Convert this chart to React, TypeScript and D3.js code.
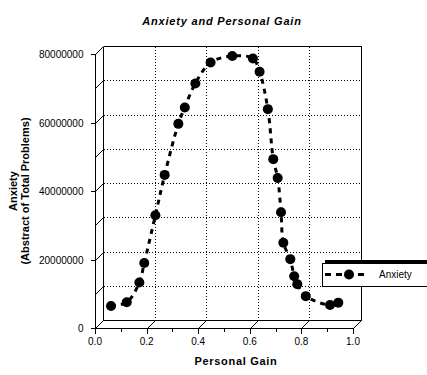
import * as d3 from 'd3'

// personal gain (x) and anxiety (y)
const gain = [0.062, 0.123, 0.172, 0.191, 0.234, 0.27, 0.323, 0.348, 0.389, 0.448, 0.532, 0.612,
  0.638, 0.67, 0.691, 0.708, 0.721, 0.73, 0.757, 0.772, 0.784, 0.817, 0.911, 0.943]
const anxiety = [6400000, 7500000, 13300000, 19000000, 32900000, 44700000, 59600000, 64400000,
  71400000, 77500000, 79400000, 78700000, 74800000, 63900000, 49300000, 43800000, 33800000,
  24900000, 20100000, 15100000, 12800000, 9300000, 6700000, 7400000]

const yTicks = [0, 20000000, 40000000, 60000000, 80000000]
const yMinor = [10000000, 30000000, 50000000, 70000000]
const xTicks = [0, 0.2, 0.4, 0.6, 0.8, 1.0]
const xMinor = [0.1, 0.3, 0.5, 0.7, 0.9]

const font = '"Liberation Sans", Arial, sans-serif'

export default function App() {
  const width = 427
  const height = 375
  const depth = 8

  const x = d3.scaleLinear().domain([0, 1]).range([95, 353])
  const y = d3.scaleLinear().domain([0, 80000000]).range([328, 54])
  const px = (v: number) => Math.round(v) + 0.5

  const left = px(x(0))
  const right = px(x(1))
  const bottom = px(y(0))
  const top = px(y(80000000))

  const pts = gain.map((g, i) => [x(g), y(anxiety[i])] as [number, number])
  const line = d3.line().curve(d3.curveCatmullRom)(pts)

  return (
    <svg width={width} height={height} style={{ position: 'absolute', left: 0, top: 0, background: '#fff' }}>
      {/* title */}
      <text x={222} y={25} textAnchor='middle' fontFamily={font} fontSize={11} fontWeight='bold' fontStyle='italic' letterSpacing={0.8}>
        Anxiety and Personal Gain
      </text>

      {/* back plane */}
      <g stroke='#000' strokeWidth={1} fill='none' shapeRendering='crispEdges'>
        <line x1={left + depth} x2={right + depth} y1={top - depth} y2={top - depth} />
        <line x1={right + depth} x2={right + depth} y1={top - depth} y2={bottom - depth} />
        <line x1={left + depth} x2={left + depth} y1={top - depth} y2={bottom - depth} />
        <line x1={left + depth} x2={right + depth} y1={bottom - depth} y2={bottom - depth} />
      </g>

      {/* dotted grid on back plane */}
      <g stroke='#000' strokeWidth={1} strokeDasharray='1,2' shapeRendering='crispEdges'>
        {[...yTicks, ...yMinor].filter(t => t > 0 && t < 80000000).map(t => (
          <line key={'gy' + t} x1={left + depth} x2={right + depth} y1={px(y(t)) - depth} y2={px(y(t)) - depth} />
        ))}
        {xTicks.filter(t => t > 0 && t < 1).map(t => (
          <line key={'gx' + t} x1={px(x(t)) + depth} x2={px(x(t)) + depth} y1={top - depth} y2={bottom - depth} />
        ))}
      </g>

      {/* axes */}
      <g stroke='#000' strokeWidth={1} fill='none'>
        <line x1={left} x2={left} y1={top} y2={bottom} shapeRendering='crispEdges' />
        <line x1={left} x2={right} y1={bottom} y2={bottom} shapeRendering='crispEdges' />
        {[...yTicks, ...yMinor].map(t => (
          <line key={'dy' + t} x1={left} y1={px(y(t))} x2={left + depth} y2={px(y(t)) - depth} />
        ))}
        {xTicks.map(t => (
          <line key={'dx' + t} x1={px(x(t))} y1={bottom} x2={px(x(t)) + depth} y2={bottom - depth} />
        ))}
        {yTicks.map(t => (
          <line key={'ty' + t} x1={left - 5} x2={left} y1={px(y(t))} y2={px(y(t))} shapeRendering='crispEdges' />
        ))}
        {xTicks.map(t => (
          <line key={'tx' + t} x1={px(x(t))} x2={px(x(t))} y1={bottom} y2={bottom + 5} shapeRendering='crispEdges' />
        ))}
        {xMinor.map(t => (
          <line key={'mx' + t} x1={px(x(t))} x2={px(x(t))} y1={bottom} y2={bottom + 3} shapeRendering='crispEdges' />
        ))}
      </g>

      {/* tick labels */}
      <g fontFamily={font} fontSize={10} fill='#000'>
        {yTicks.map(t => (
          <text key={'ly' + t} x={left - 12} y={y(t) + 4} textAnchor='end'>{t}</text>
        ))}
        {xTicks.map(t => (
          <text key={'lx' + t} x={x(t)} y={345} textAnchor='middle'>{d3.format('.1f')(t)}</text>
        ))}
      </g>

      {/* axis titles */}
      <text x={236} y={365} textAnchor='middle' fontFamily={font} fontSize={11} fontWeight='bold' letterSpacing={0.7}>Personal Gain</text>
      <g transform='translate(17,191) rotate(-90)' fontFamily={font} fontSize={11} fontWeight='bold'>
        <text x={0} y={0} textAnchor='middle'>Anxiety</text>
        <text x={0} y={12} textAnchor='middle'>(Abstract of Total Problems)</text>
      </g>

      {/* series */}
      <path d={line ?? ''} fill='none' stroke='#000' strokeWidth={3} strokeDasharray='5,5' />
      {pts.map((p, i) => (
        <circle key={'c' + i} cx={p[0]} cy={p[1]} r={5} fill='#000' />
      ))}

      {/* legend */}
      <rect x={325} y={260} width={110} height={23} fill='#000' />
      <rect x={322.5} y={263.5} width={110} height={23} fill='#fff' stroke='#000' />
      <line x1={325} x2={368} y1={274.5} y2={274.5} stroke='#000' strokeWidth={3} strokeDasharray='6,5' />
      <circle cx={349} cy={274.5} r={5} fill='#000' />
      <text x={379} y={278} fontFamily={font} fontSize={10} fill='#000'>Anxiety</text>
    </svg>
  )
}
